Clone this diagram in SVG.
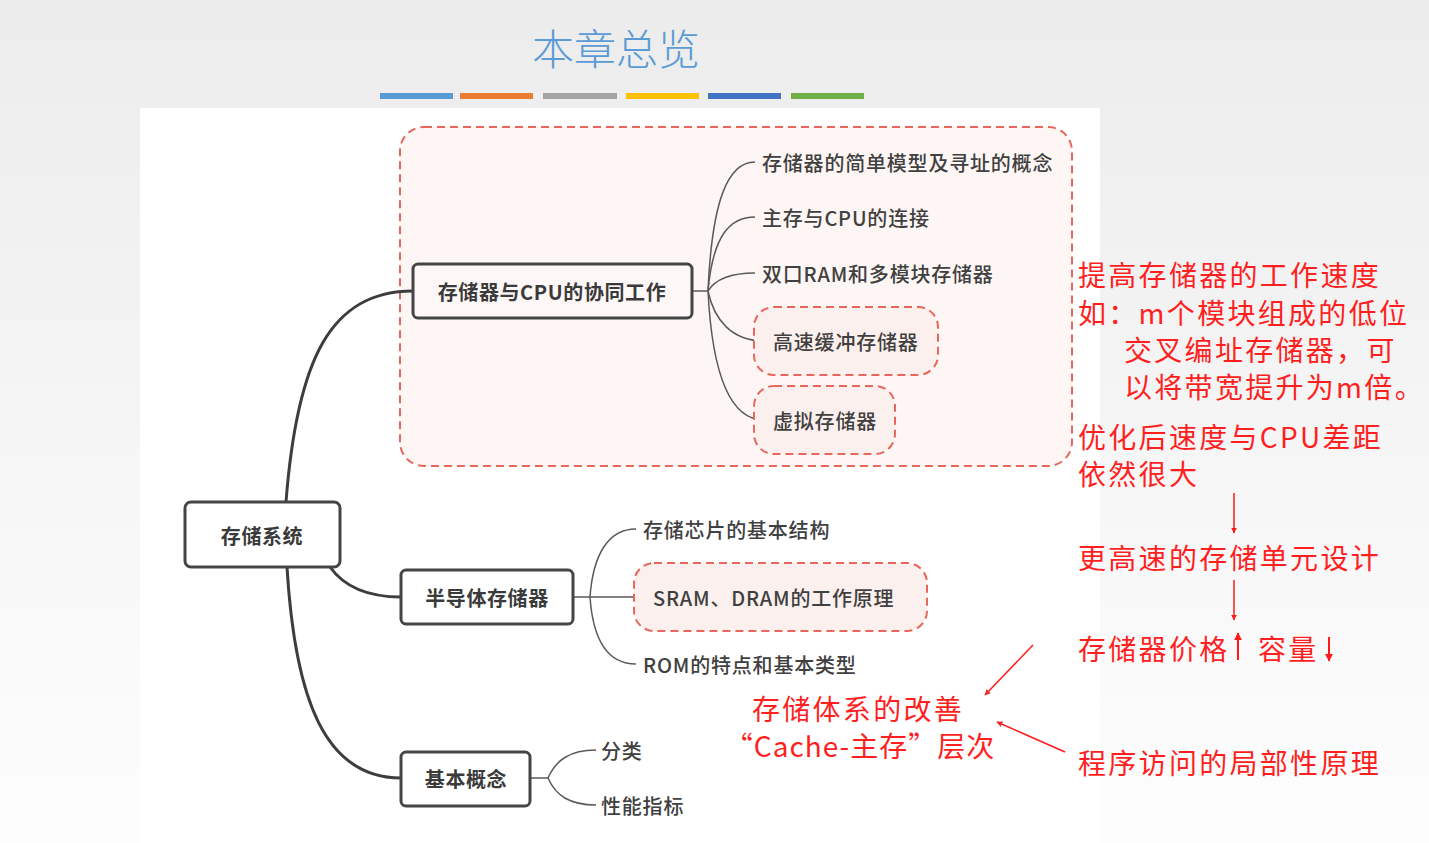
<svg xmlns="http://www.w3.org/2000/svg" width="1429" height="843" viewBox="0 0 1429 843">
<defs>
<linearGradient id="bg" x1="0" y1="0" x2="0" y2="1">
<stop offset="0" stop-color="#ececec"/>
<stop offset="0.6" stop-color="#f7f7f7"/>
<stop offset="1" stop-color="#fdfdfd"/>
</linearGradient>
<marker id="ah" viewBox="0 0 10 10" refX="9" refY="5" markerWidth="4" markerHeight="4" orient="auto" markerUnits="strokeWidth">
<path d="M0,0 L10,5 L0,10 z" fill="#ff1a1a"/>
</marker>
<marker id="ahs" viewBox="0 0 10 10" refX="9" refY="5" markerWidth="4" markerHeight="4" orient="auto" markerUnits="strokeWidth">
<path d="M0,0 L10,5 L0,10 z" fill="#e83030"/>
</marker>
</defs>
<style>
.node rect{fill:#ffffff;stroke:#454545;stroke-width:3}
.node.pink rect{fill:#fdf8f7}
.nt{font-family:"Noto Sans CJK SC","Noto Sans",sans-serif;font-size:20px;font-weight:bold;fill:#3a3a3a;text-anchor:middle;dominant-baseline:central;letter-spacing:0.6px}
.ct{font-family:"Noto Sans CJK SC","Noto Sans",sans-serif;font-size:20px;font-weight:500;fill:#404040;dominant-baseline:central;letter-spacing:0.8px}
.dash{fill:#fcf0ee;stroke:#e8675c;stroke-width:2;stroke-dasharray:8 5}
.main{fill:none;stroke:#3d3d3d;stroke-width:3}
.sub{fill:none;stroke:#5a5a5a;stroke-width:1.5}
.red{font-family:"Noto Sans CJK SC","Noto Sans",sans-serif;font-size:28px;font-weight:400;fill:#ff1f1f;dominant-baseline:central;letter-spacing:2.3px}
.ra{stroke:#ff1a1a;stroke-width:1.5;fill:none}
</style>
<rect x="0" y="0" width="1429" height="843" fill="url(#bg)"/>
<rect x="140" y="108" width="960" height="735" fill="#ffffff"/>

<g id="title">
<text x="616" y="46" font-family="Noto Sans CJK SC, sans-serif" font-size="42" font-weight="300" fill="#5b9bd5" text-anchor="middle" dominant-baseline="central">本章总览</text>
<rect x="380" y="93" width="73" height="6" fill="#5b9bd5"/>
<rect x="460" y="93" width="73" height="6" fill="#ed7d31"/>
<rect x="543" y="93" width="74" height="6" fill="#a5a5a5"/>
<rect x="626" y="93" width="73" height="6" fill="#ffc000"/>
<rect x="708" y="93" width="73" height="6" fill="#4472c4"/>
<rect x="791" y="93" width="73" height="6" fill="#70ad47"/>
</g>

<g id="cluster-box">
<rect x="400" y="127" width="672" height="339" rx="24" class="dash" style="fill:#fdf6f5"/>
</g>

<g id="connectors">
<path class="main" d="M286,502 C297,360 330,291 413,291"/>
<path class="main" d="M330,567 C345,588 368,597 401,597"/>
<path class="main" d="M287,567 C295,700 325,778 401,778"/>
<path class="sub" d="M692,291 L708,291"/>
<path class="sub" d="M708,291 C712,200 728,162 755,162"/>
<path class="sub" d="M708,291 C713,235 730,217 755,217"/>
<path class="sub" d="M708,291 C716,278 735,273 755,273"/>
<path class="sub" d="M708,291 C714,320 732,341 764,341"/>
<path class="sub" d="M708,291 C712,370 728,420 764,420"/>
<path class="sub" d="M573,597 L647,597"/>
<path class="sub" d="M590,597 C593,555 608,529 636,529"/>
<path class="sub" d="M590,597 C593,640 608,664 636,664"/>
<path class="sub" d="M530,778 L548,778"/>
<path class="sub" d="M548,778 C556,760 570,750 596,750"/>
<path class="sub" d="M548,778 C556,796 570,805 596,805"/>
</g>

<g id="root" class="node"><rect x="185" y="502" width="155" height="65" rx="6"/><text class="nt" x="262" y="535">存储系统</text></g>
<g id="n-cpu" class="node pink"><rect x="413" y="264" width="279" height="54" rx="5"/><text class="nt" x="552" y="291">存储器与CPU的协同工作</text></g>
<g id="n-semi" class="node"><rect x="401" y="570" width="172" height="54" rx="5"/><text class="nt" x="487" y="597">半导体存储器</text></g>
<g id="n-basic" class="node"><rect x="401" y="752" width="129" height="54" rx="5"/><text class="nt" x="466" y="778">基本概念</text></g>

<g id="c1"><text class="ct" x="762" y="162">存储器的简单模型及寻址的概念</text></g>
<g id="c2"><text class="ct" x="762" y="217">主存与CPU的连接</text></g>
<g id="c3"><text class="ct" x="762" y="273">双口RAM和多模块存储器</text></g>
<g id="c4"><rect x="754" y="307" width="184" height="68" rx="20" class="dash"/><text class="ct" x="773" y="341">高速缓冲存储器</text></g>
<g id="c5"><rect x="754" y="386" width="141" height="68" rx="20" class="dash"/><text class="ct" x="773" y="420">虚拟存储器</text></g>
<g id="s1"><text class="ct" x="643" y="529">存储芯片的基本结构</text></g>
<g id="s2"><rect x="634" y="563" width="293" height="68" rx="20" class="dash"/><text class="ct" x="653" y="597">SRAM、DRAM的工作原理</text></g>
<g id="s3"><text class="ct" x="643" y="664">ROM的特点和基本类型</text></g>
<g id="b1"><text class="ct" x="601" y="750">分类</text></g>
<g id="b2"><text class="ct" x="601" y="805">性能指标</text></g>

<g id="notes">
<text class="red" x="1078" y="274">提高存储器的工作速度</text>
<text class="red" x="1078" y="312">如：m个模块组成的低位</text>
<text class="red" x="1124" y="349">交叉编址存储器，可</text>
<text class="red" x="1124" y="386">以将带宽提升为m倍。</text>
<text class="red" x="1078" y="436">优化后速度与CPU差距</text>
<text class="red" x="1078" y="473">依然很大</text>
<text class="red" x="1078" y="557">更高速的存储单元设计</text>
<text class="red" x="1078" y="648">存储器价格</text>
<text class="red" x="1258" y="648">容量</text>
<text class="red" x="1078" y="762">程序访问的局部性原理</text>
<text class="red" x="858" y="708" text-anchor="middle">存储体系的改善</text>
<text class="red" x="860" y="745" text-anchor="middle" style="letter-spacing:1px">“Cache-主存”层次</text>
<line class="ra" x1="1234" y1="493" x2="1234" y2="533" marker-end="url(#ah)"/>
<line class="ra" x1="1234" y1="580" x2="1234" y2="620" marker-end="url(#ah)"/>
<line class="ra" x1="1238" y1="660" x2="1238" y2="633" marker-end="url(#ah)" style="stroke-width:2"/>
<line class="ra" x1="1329" y1="637" x2="1329" y2="661" marker-end="url(#ah)" style="stroke-width:2"/>
<line class="ra" x1="1033" y1="645" x2="985" y2="695" marker-end="url(#ahs)"/>
<line class="ra" x1="1065" y1="752" x2="997" y2="722" marker-end="url(#ahs)"/>
</g>
</svg>
